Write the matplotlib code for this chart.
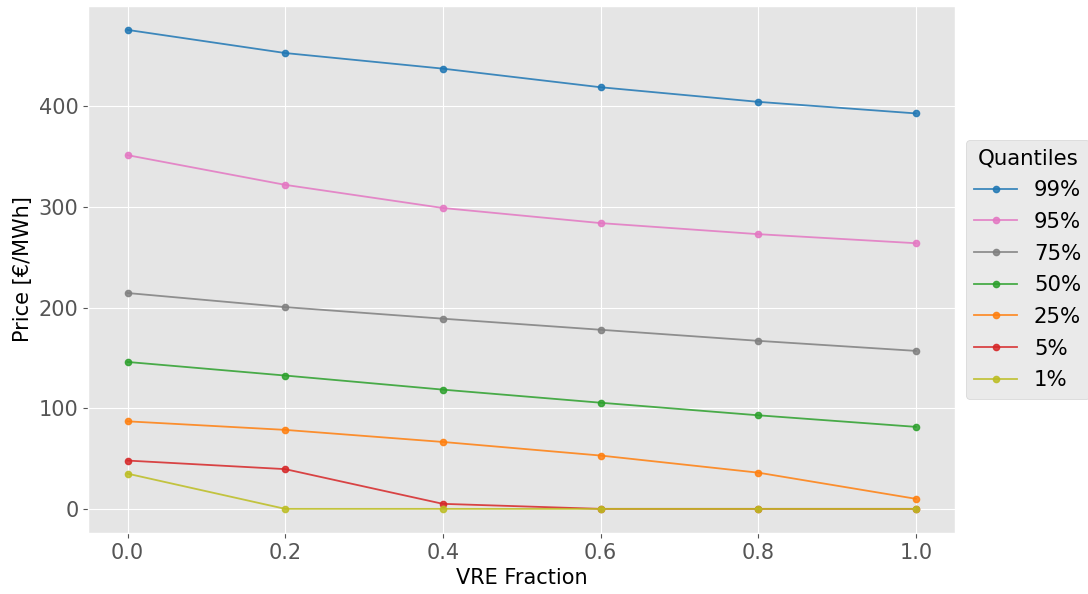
import matplotlib
matplotlib.use("Agg")
import matplotlib.pyplot as plt

vre_fraction = [0.0, 0.2, 0.4, 0.6, 0.8, 1.0]

quantile_labels = ["99%", "95%", "75%", "50%", "25%", "5%", "1%"]
q99 = [476, 453, 437.5, 419, 404.5, 393]
q95 = [351.5, 322, 299, 284, 273, 264]
q75 = [214.5, 200.5, 189, 178, 167, 157]
q50 = [146, 132.5, 118.5, 105.5, 93, 81.5]
q25 = [87, 78.5, 66.5, 53, 36, 10]
q5 = [48, 39.5, 5, 0, 0, 0]
q1 = [35, 0, 0, 0, 0, 0]

series = [q99, q95, q75, q50, q25, q5, q1]
colors = ["tab:blue", "tab:pink", "tab:gray", "tab:green", "tab:orange", "tab:red", "tab:olive"]

plt.style.use("ggplot")

fig, ax = plt.subplots(figsize=(10.88, 5.94), dpi=100)
for vals, lab, col in zip(series, quantile_labels, colors):
    ax.plot(vre_fraction, vals, marker="o", markersize=4.5, color=col, label=lab,
            linewidth=1.3, alpha=0.85)

ax.set_xlabel("VRE Fraction", fontsize=15, color="black")
ax.set_ylabel("Price [€/MWh]", fontsize=15, color="black")
ax.tick_params(labelsize=15)
ax.set_yticks([0, 100, 200, 300, 400])

leg = ax.legend(title="Quantiles", loc="center left", bbox_to_anchor=(1.0, 0.5),
                fontsize=15.3, title_fontsize=15.3, labelspacing=0.55)

fig.subplots_adjust(left=0.081, right=0.878, top=0.99, bottom=0.103)
fig.savefig("out.png", dpi=100)
